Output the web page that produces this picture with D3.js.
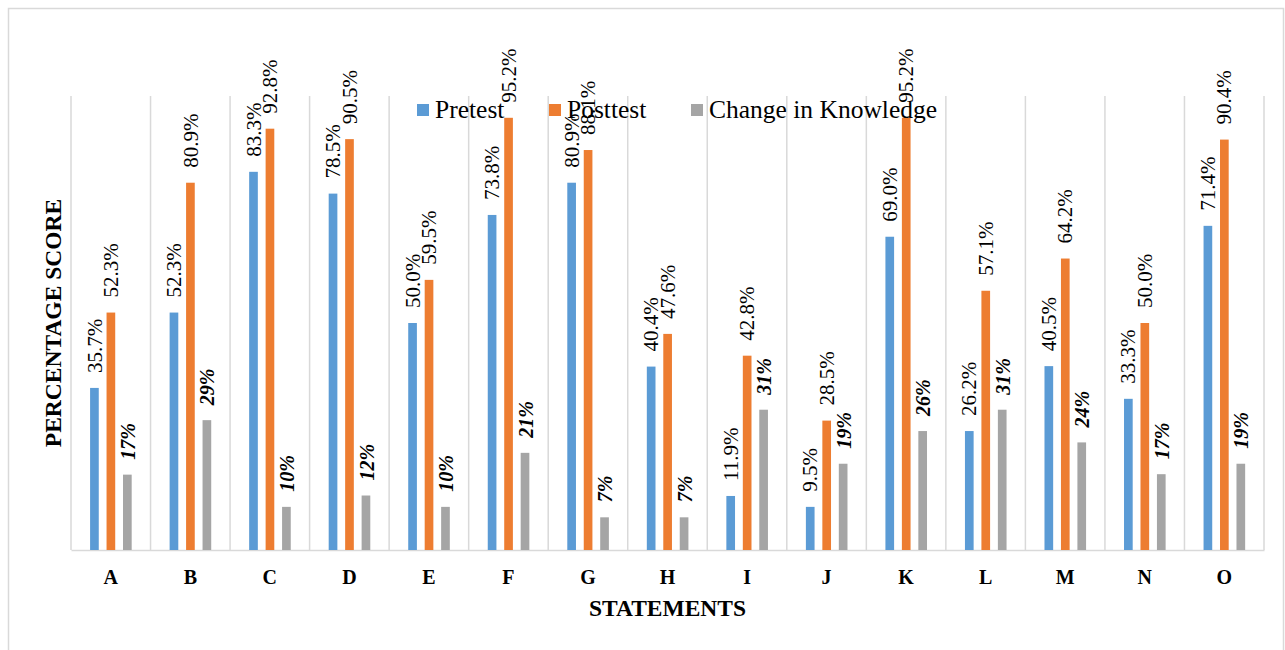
<!DOCTYPE html>
<html>
<head>
<meta charset="utf-8">
<script src="https://cdn.jsdelivr.net/npm/d3@7/dist/d3.min.js"></script>
<style>
  html, body { margin: 0; padding: 0; background: #fff; }
  svg { display: block; }
</style>
</head>
<body>
<svg id="chart" width="1285" height="650"></svg>
<script>
// Statements A–O and scores per test (percent)
const statements = ["A","B","C","D","E","F","G","H","I","J","K","L","M","N","O"];
const pretest   = [35.7, 52.3, 83.3, 78.5, 50.0, 73.8, 80.9, 40.4, 11.9, 9.5, 69.0, 26.2, 40.5, 33.3, 71.4];
const posttest  = [52.3, 80.9, 92.8, 90.5, 59.5, 95.2, 88.1, 47.6, 42.8, 28.5, 95.2, 57.1, 64.2, 50.0, 90.4];
const change    = [16.6, 28.6, 9.5, 12.0, 9.5, 21.4, 7.2, 7.2, 30.9, 19.0, 26.2, 30.9, 23.7, 16.7, 19.0];
const seriesNames = ["Pretest", "Posttest", "Change in Knowledge"];
const seriesColors = ["#5B9BD5", "#ED7D31", "#A5A5A5"];
const yDomain = [0, 100];

const FONT = "'Liberation Serif', 'Times New Roman', serif";
const svg = d3.select("#chart");
const plot = { left: 71, right: 1264, top: 96, bottom: 550 };

// outer chart frame
svg.append("rect")
  .attr("x", 8.5).attr("y", 8.5)
  .attr("width", 1275).attr("height", 700)
  .attr("fill", "none").attr("stroke", "#d9d9d9").attr("stroke-width", 1.5);

const x0 = d3.scaleBand().domain(statements).range([plot.left, plot.right]).padding(0);
const bw = x0.bandwidth();
const x1 = d3.scaleBand().domain(seriesNames)
  .range([bw * 0.24, bw * 0.763]).paddingInner(0.473).paddingOuter(0);
const y = d3.scaleLinear().domain(yDomain).range([plot.bottom, plot.top]);

// vertical category gridlines
const bounds = statements.map(s => x0(s)).concat([plot.right]);
svg.append("g").selectAll("line").data(bounds).join("line")
  .attr("x1", d => d).attr("x2", d => d)
  .attr("y1", plot.top).attr("y2", plot.bottom)
  .attr("stroke", "#d9d9d9").attr("stroke-width", 1.5);

// category axis
const xAxis = svg.append("g")
  .attr("transform", `translate(0,${plot.bottom})`)
  .call(d3.axisBottom(x0).tickSize(0).tickPadding(20));
xAxis.select(".domain").attr("stroke", "#d9d9d9").attr("stroke-width", 1.5);
xAxis.selectAll("text")
  .style("font-family", FONT)
  .style("font-size", "20px").style("font-weight", "bold").attr("fill", "#000")
  .attr("dy", "0.71em");

const seriesValues = [pretest, posttest, change];
const rows = statements.map((s, i) => ({
  cat: s,
  vals: seriesNames.map((n, k) => ({ name: n, k, v: seriesValues[k][i] }))
}));

const groups = svg.append("g").selectAll("g").data(rows).join("g")
  .attr("transform", d => `translate(${x0(d.cat)},0)`);

groups.selectAll("rect").data(d => d.vals).join("rect")
  .attr("x", d => x1(d.name))
  .attr("y", d => y(d.v))
  .attr("width", x1.bandwidth())
  .attr("height", d => y(0) - y(d.v))
  .attr("fill", d => seriesColors[d.k]);

// rotated value labels above each bar
const fmtScore = v => d3.format(".1f")(v) + "%";
const fmtChange = v => d3.format(".0f")(v) + "%";
groups.selectAll("text.val").data(d => d.vals).join("text")
  .attr("class", "val")
  .attr("transform", d => `translate(${x1(d.name) + x1.bandwidth() / 2},${y(d.v) - 15}) rotate(-90)`)
  .attr("dy", d => d.k === 2 ? "0.38em" : "0.34em")
  .attr("text-anchor", "start")
  .style("font-family", FONT)
  .style("font-size", d => d.k === 2 ? "20px" : "21px")
  .style("font-weight", d => d.k === 2 ? "bold" : "normal")
  .style("font-style", d => d.k === 2 ? "italic" : "normal")
  .attr("fill", "#000")
  .text(d => d.k === 2 ? fmtChange(d.v) : fmtScore(d.v));

// legend
const legendX = [417, 549, 691];
const legend = svg.append("g").selectAll("g").data(seriesNames).join("g")
  .attr("transform", (d, i) => `translate(${legendX[i]},104)`);
legend.append("rect").attr("width", 12).attr("height", 12)
  .attr("fill", (d, i) => seriesColors[i]);
legend.append("text").attr("x", 18).attr("y", 14)
  .style("font-family", FONT)
  .style("font-size", "25.5px").attr("fill", "#000").text(d => d);

// axis titles
svg.append("text")
  .attr("x", (plot.left + plot.right) / 2).attr("y", 616)
  .style("font-family", FONT)
  .attr("text-anchor", "middle").style("font-size", "23.5px").style("font-weight", "bold")
  .text("STATEMENTS");
svg.append("text")
  .attr("transform", `translate(61,${(plot.top + plot.bottom) / 2}) rotate(-90)`)
  .style("font-family", FONT)
  .attr("text-anchor", "middle").style("font-size", "23.5px").style("font-weight", "bold")
  .text("PERCENTAGE SCORE");
</script>
</body>
</html>
